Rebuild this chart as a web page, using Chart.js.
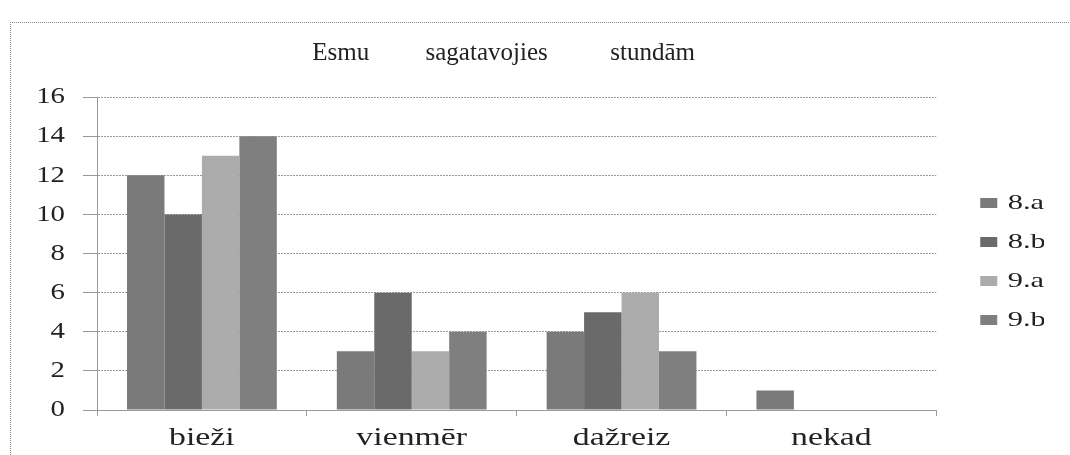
<!DOCTYPE html>
<html>
<head>
<meta charset="utf-8">
<script src="https://cdn.jsdelivr.net/npm/chart.js@4/dist/chart.umd.min.js"></script>
<style>
  html, body { margin: 0; padding: 0; background: #fff; overflow: hidden; }
  #wrap { position: relative; width: 1070px; height: 455px; }
  #frame { position: absolute; left: 10px; top: 22px; width: 1100px; height: 500px;
           border-left: 1px dotted #8a8a8a; border-top: 1px dotted #8a8a8a; }
  #c { position: absolute; left: 0; top: 0; }
</style>
</head>
<body>
<div id="wrap">
  <div id="frame"></div>
  <canvas id="c" width="1070" height="455"></canvas>
</div>
<script>
const categories = ["bieži", "vienmēr", "dažreiz", "nekad"];
const seriesNames = ["8.a", "8.b", "9.a", "9.b"];
const values8a = [12, 3, 4, 1];
const values8b = [10, 6, 5, 0];
const values9a = [13, 3, 6, 0];
const values9b = [14, 4, 3, 0];
const yTicks = [0, 2, 4, 6, 8, 10, 12, 14, 16];
const titleText = "Esmu         sagatavojies          stundām";

const colors = ["#7a7a7a", "#6a6a6a", "#acacac", "#7f7f7f"];
const seriesValues = [values8a, values8b, values9a, values9b];

const serif = "'Liberation Serif', 'Times New Roman', serif";
const gridColor = "#9a9a9a";

// wrap a draw method so its text is drawn horizontally stretched (scan look) and/or shifted
function wrapDraw(obj, method, stretch, dx) {
  if (!obj || obj["__wrapped_" + method]) return;
  const orig = obj[method];
  obj[method] = function (...args) {
    const ctx = this.ctx;
    ctx.save();
    if (dx) ctx.translate(dx, 0);
    const protoFill = CanvasRenderingContext2D.prototype.fillText;
    if (stretch && stretch !== 1) {
      ctx.fillText = function (t, x, y, mw) {
        this.save();
        this.translate(x, y);
        this.scale(stretch, 1);
        protoFill.call(this, t, 0, 0);
        this.restore();
      };
    }
    let r;
    try { r = orig.apply(this, args); }
    finally { delete ctx.fillText; ctx.restore(); }
    return r;
  };
  obj["__wrapped_" + method] = true;
}

const stylingPlugin = {
  id: "styling",
  beforeLayout(chart) {
    wrapDraw(chart.titleBlock, "draw", 1.0, -13);
    wrapDraw(chart.legend, "draw", 1.45, 0);
  }
};

new Chart(document.getElementById("c"), {
  type: "bar",
  plugins: [stylingPlugin],
  data: {
    labels: categories,
    datasets: seriesNames.map((n, i) => ({
      label: n,
      data: seriesValues[i],
      backgroundColor: colors[i],
      borderWidth: 0,
      categoryPercentage: 0.714,
      barPercentage: 1.0
    }))
  },
  options: {
    responsive: false,
    animation: false,
    devicePixelRatio: 1,
    layout: { padding: { left: 0, right: 26, top: 0, bottom: 0 } },
    plugins: {
      title: {
        display: true,
        text: titleText,
        fullSize: false,
        color: "#222",
        font: { family: serif, size: 25, weight: "normal", lineHeight: 1.2 },
        padding: { top: 38, bottom: 29 }
      },
      legend: {
        position: "right",
        fullSize: false,
        title: { display: true, text: "", padding: 0, font: { size: 13.34, lineHeight: 1.2 } },
        labels: {
          color: "#222",
          font: { family: serif, size: 21 },
          boxWidth: 17,
          boxHeight: 10,
          padding: 18
        }
      },
      tooltip: { enabled: false }
    },
    scales: {
      x: {
        grid: { display: true, drawOnChartArea: false, drawTicks: true, tickLength: 6, color: gridColor, offset: true },
        border: { display: true, color: gridColor, dash: [2, 1] },
        ticks: { color: "#222", font: { family: serif, size: 26 }, padding: 7 },
        afterFit(s) { s.height = 45; wrapDraw(s, "drawLabels", 1.3, 0); }
      },
      y: {
        min: 0, max: 16,
        afterBuildTicks(s) { s.ticks = yTicks.map(v => ({ value: v })); },
        grid: { color: gridColor, tickLength: 14, drawTicks: true },
        border: { display: true, color: gridColor, dash: [2, 1] },
        ticks: { color: "#222", font: { family: serif, size: 24 }, padding: 18 },
        afterFit(s) { s.width = 97; wrapDraw(s, "drawLabels", 1.2, 0); }
      },
      y2: {
        position: "right",
        display: true,
        grid: { display: false },
        ticks: { display: false },
        border: { display: false },
        afterFit(s) { s.width = 26; }
      }
    }
  }
});
</script>
</body>
</html>
